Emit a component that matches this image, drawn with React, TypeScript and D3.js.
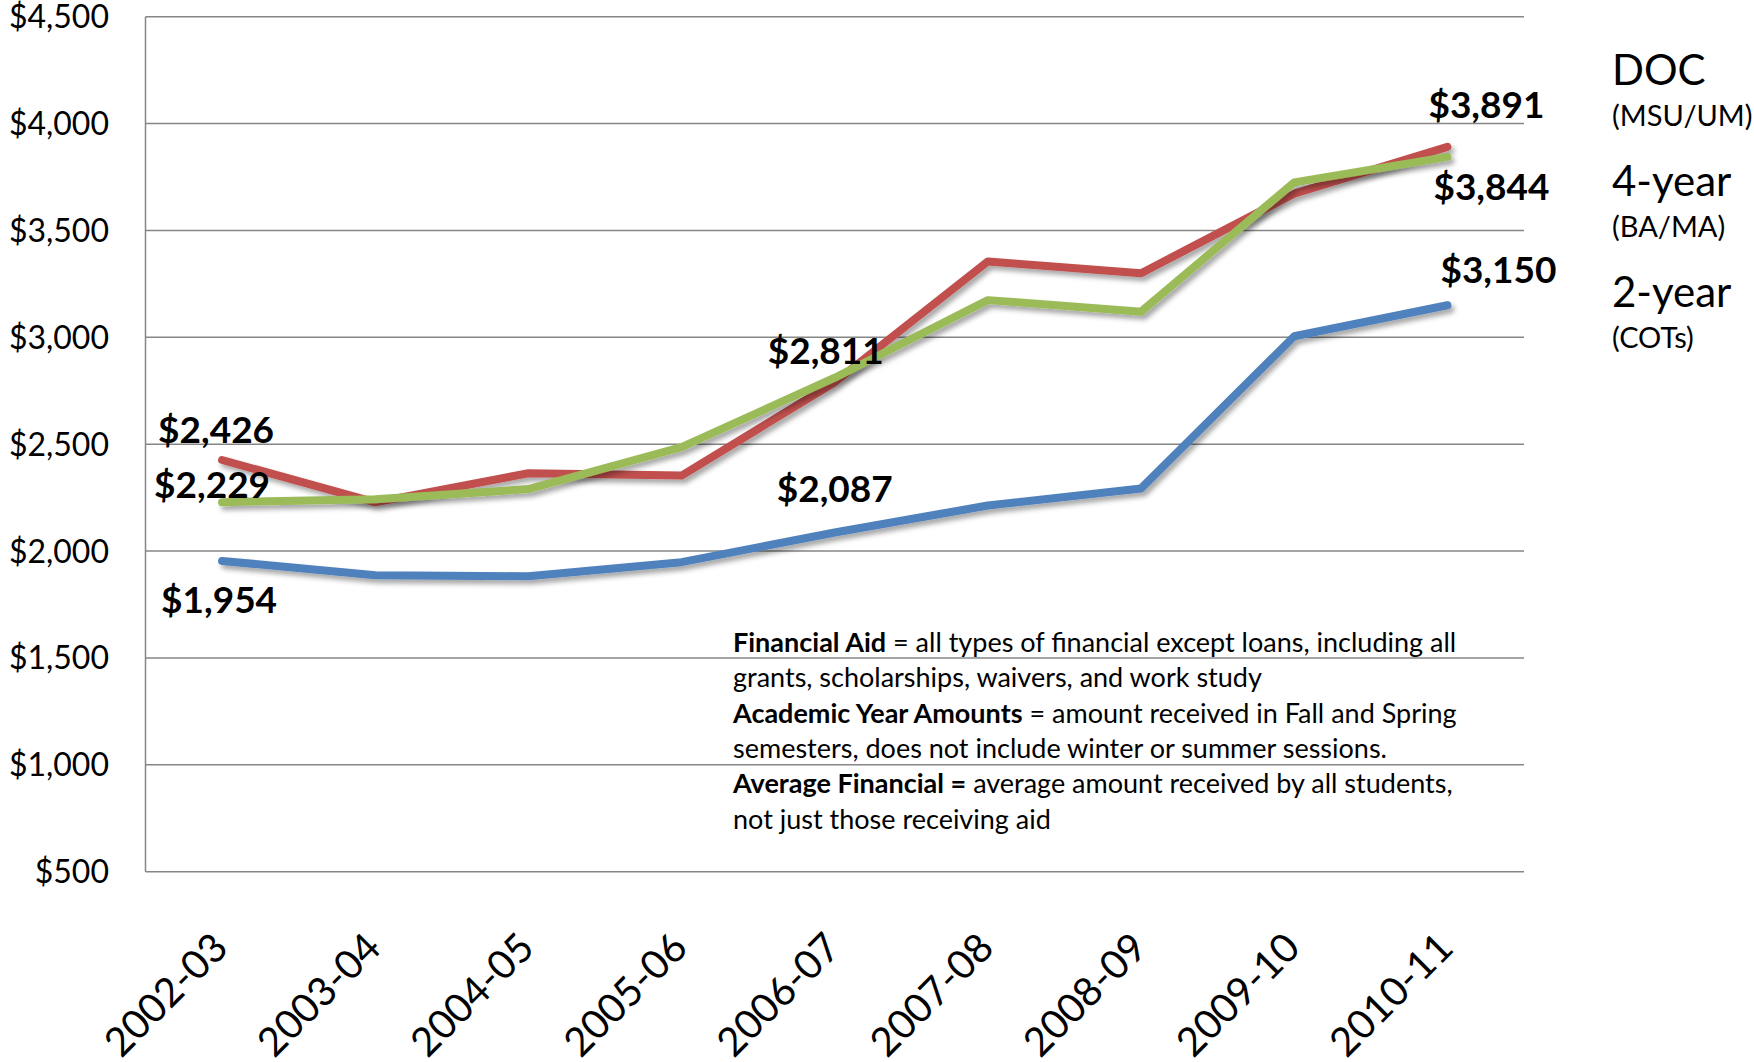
import React, { useEffect } from 'react';
import * as d3 from 'd3';

const categories = ['2002-03', '2003-04', '2004-05', '2005-06', '2006-07', '2007-08', '2008-09', '2009-10', '2010-11'];
const twoYearValues = [1954, 1887, 1882, 1948, 2087, 2213, 2293, 3005, 3150];
const docValues = [2426, 2228, 2364, 2353, 2790, 3355, 3300, 3672, 3891];
const fourYearValues = [2229, 2243, 2290, 2486, 2811, 3174, 3120, 3725, 3844];
const yTicks = [500, 1000, 1500, 2000, 2500, 3000, 3500, 4000, 4500];

const seriesList = [
  { key: 'two', values: twoYearValues, color: '#4F81BD' },
  { key: 'doc', values: docValues, color: '#C0504D' },
  { key: 'four', values: fourYearValues, color: '#9BBB59' },
];

// which points get a value label, with label offsets (styling)
const labelPlacements = [
  { key: 'doc', index: 0, dx: -6, dy: -17 },
  { key: 'four', index: 0, dx: -10, dy: -4 },
  { key: 'two', index: 0, dx: -3, dy: 52 },
  { key: 'four', index: 4, dx: -9, dy: -14 },
  { key: 'two', index: 4, dx: 0, dy: -30 },
  { key: 'doc', index: 8, dx: 39, dy: -29 },
  { key: 'four', index: 8, dx: 44, dy: 43 },
  { key: 'two', index: 8, dx: 51, dy: -22 },
];

const legendItems = [
  { title: 'DOC', sub: '(MSU/UM)' },
  { title: '4-year', sub: '(BA/MA)' },
  { title: '2-year', sub: '(COTs)' },
];

const noteLines: { bold: string; rest: string }[] = [
  { bold: 'Financial Aid', rest: ' = all types of financial except loans, including all' },
  { bold: '', rest: 'grants, scholarships, waivers, and work study' },
  { bold: 'Academic Year Amounts', rest: ' = amount received in Fall and Spring' },
  { bold: '', rest: 'semesters, does not include winter or summer sessions.' },
  { bold: 'Average Financial =', rest: ' average amount received by all students,' },
  { bold: '', rest: 'not just those receiving aid' },
];

const W = 1754;
const H = 1062;
const FONT = "Lato, 'Open Sans', sans-serif";

export default function App() {
  useEffect(() => {
    document.body.style.margin = '0';
    document.body.style.overflow = 'hidden';
  }, []);

  const left = 145.5;
  const right = 1524;
  const top = 16.7;
  const bottom = 871.7;

  const x = d3.scalePoint<string>().domain(categories).range([left, right]).padding(0.5);
  const y = d3.scaleLinear().domain([500, 4500]).range([bottom, top]);
  const fmt = d3.format('$,.0f');

  const line = d3
    .line<number>()
    .x((_, i) => x(categories[i]) as number)
    .y((d) => y(d));

  const byKey: Record<string, number[]> = {};
  seriesList.forEach((s) => (byKey[s.key] = s.values));

  return (
    <svg
      width={W}
      height={H}
      viewBox={`0 0 ${W} ${H}`}
      style={{ position: 'absolute', left: 0, top: 0, background: '#fff' }}
      fontFamily={FONT}
    >
      <defs>
        <filter id="shadow" filterUnits="userSpaceOnUse" x={0} y={0} width={W} height={H}>
          <feDropShadow dx={3} dy={4} stdDeviation={2.5} floodColor="#000" floodOpacity={0.35} />
        </filter>
      </defs>
      <rect x={0} y={0} width={W} height={H} fill="#fff" />

      {/* gridlines */}
      {yTicks.map((t) => (
        <line key={t} x1={left} x2={right} y1={y(t)} y2={y(t)} stroke="#868686" strokeWidth={1.5} />
      ))}
      <line x1={left} x2={left} y1={top} y2={bottom} stroke="#868686" strokeWidth={1.5} />

      {/* y labels */}
      {yTicks.map((t) => (
        <text key={t} x={109} y={y(t) + 11.5} textAnchor="end" fontSize={32} fill="#000">
          {fmt(t)}
        </text>
      ))}

      {/* x labels */}
      {categories.map((c) => {
        const ax = (x(c) as number) + 8;
        const ay = 950;
        return (
          <text
            key={c}
            x={ax}
            y={ay}
            textAnchor="end"
            fontSize={40}
            fill="#000"
            transform={`rotate(-45 ${ax} ${ay})`}
          >
            {c}
          </text>
        );
      })}

      {/* lines */}
      {seriesList.map((s) => (
        <path
          key={s.key}
          d={line(s.values) as string}
          fill="none"
          stroke={s.color}
          strokeWidth={8}
          strokeLinejoin="round"
          strokeLinecap="round"
          filter="url(#shadow)"
        />
      ))}

      {/* data labels */}
      {labelPlacements.map((p, i) => {
        const v = byKey[p.key][p.index];
        const px = (x(categories[p.index]) as number) + p.dx;
        const py = y(v) + p.dy;
        return (
          <text key={i} x={px} y={py} textAnchor="middle" fontSize={37} fontWeight="bold" fill="#000">
            {fmt(v)}
          </text>
        );
      })}

      {/* legend */}
      {legendItems.map((item, i) => (
        <g key={item.title}>
          <text x={1612} y={85 + i * 111} fontSize={42} fill="#000">
            {item.title}
          </text>
          <text x={1612} y={126 + i * 111} fontSize={29} fill="#000">
            {item.sub}
          </text>
        </g>
      ))}

      {/* notes */}
      {noteLines.map((ln, i) => (
        <text key={i} x={733} y={652 + i * 35.3} fontSize={27} fill="#000">
          {ln.bold && <tspan fontWeight="bold">{ln.bold}</tspan>}
          <tspan>{ln.rest}</tspan>
        </text>
      ))}
    </svg>
  );
}
